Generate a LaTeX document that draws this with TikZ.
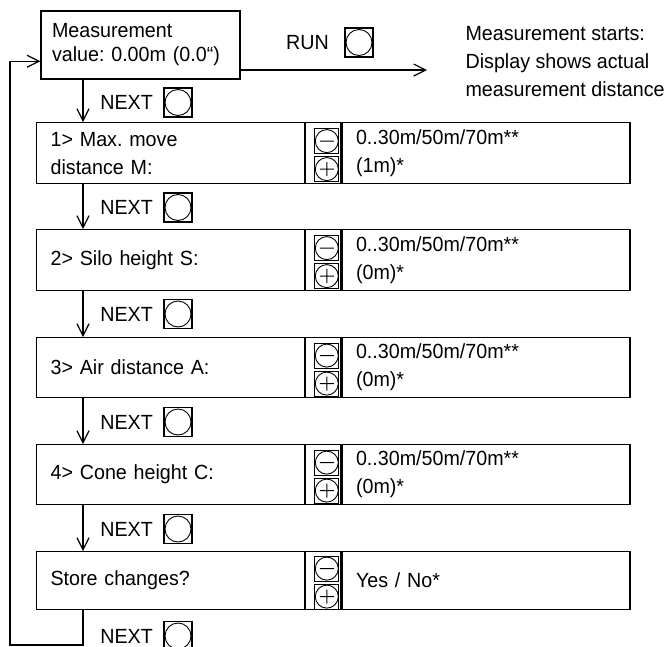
\documentclass[tikz,border=0pt]{standalone}
\usepackage{fontspec}
\setmainfont{Liberation Sans}[FakeStretch=0.96]
\frenchspacing
\usetikzlibrary{arrows.meta, calc, positioning}
\tikzset{
     %set default line width to 1.2pt
    every picture/.style={line width=1.2pt},
    arr/.style={
        -{Straight Barb[length=12pt,width=12pt]},
    },
    meas-box/.style={
        draw,
        minimum width=199pt,
        minimum height=68pt,
        text width=177pt,
        inner xsep=11pt,
        inner ysep=0pt,
        align=left,
        font=\fontsize{20.5}{24}\selectfont,
    },
    lab-box/.style={
        draw,
        anchor=north west,
        minimum height=61pt,
        text width=240pt,
        inner xsep=14pt,
        inner ysep=0pt,
        align=left,
    },
    col-box/.style={
        draw,
        anchor=north west,
        minimum width=35pt,
        minimum height=61pt,
        inner sep=0pt,
    },
    val-box/.style={
        draw,
        anchor=north west,
        minimum height=61pt,
        text width=260pt,
        inner xsep=14pt,
        inner ysep=0pt,
        align=left,
    },
    big-key/.style={
        draw,
        minimum width=28pt,
        minimum height=29pt,
        inner sep=0pt,
        path picture={\draw[line width=0.9pt] (path picture bounding box.center) circle (13pt);},
    },
    minus-key/.style={
        draw,
        line width=0.9pt,
        minimum width=24pt,
        minimum height=25pt,
        inner sep=0pt,
        path picture={\draw[line width=0.9pt] (path picture bounding box.center) circle (11.5pt) +(-7pt,0) -- +(7pt,0);},
    },
    plus-key/.style={
        draw,
        line width=0.9pt,
        minimum width=24pt,
        minimum height=25pt,
        inner sep=0pt,
        path picture={\draw[line width=0.9pt] (path picture bounding box.center) circle (11.5pt) +(-7pt,0) -- +(7pt,0) +(0,-7pt) -- +(0,7pt);},
    },
    key-text/.style={
        inner sep=0pt,
    }
}

\begin{document}
\begin{tikzpicture}[x=1pt,y=1pt,yscale=-1,font=\fontsize{20.5}{28}\selectfont]
\useasboundingbox (0,0) rectangle (669,646);

%Rectangle: measurement value
\node[meas-box] (meas) at (140.5,45) {Measurement\\\mbox{value: 0.00m (0.0“)}};

% RUN key
\node[big-key] (runkey) at (359,42.5) {};
\node[key-text, left=15pt of runkey] (run) {RUN};
% Text Node
\node[anchor=west, align=left, inner sep=0pt] (note) at (465,61.5) {Measurement starts:\\Display shows actual\\measurement distance};

%Rows
\node[lab-box] (lab1) at (36,122) {1> Max. move\\distance M:};
\node[col-box] (col1) at (lab1.north east) {};
\node[val-box] (val1) at (col1.north east) {0..30m/50m/70m**\\(1m)*};
\node[minus-key] (min1) at ($(col1.center)+(3.5,-12)$) {};
\node[plus-key] (pls1) at ($(col1.center)+(3.5,16)$) {};

\node[lab-box] (lab2) at (36,229) {2> Silo height S:};
\node[col-box] (col2) at (lab2.north east) {};
\node[val-box] (val2) at (col2.north east) {0..30m/50m/70m**\\(0m)*};
\node[minus-key] (min2) at ($(col2.center)+(3.5,-12)$) {};
\node[plus-key] (pls2) at ($(col2.center)+(3.5,16)$) {};

\node[lab-box, minimum height=60pt] (lab3) at (36,337) {3> Air distance A:};
\node[col-box, minimum height=60pt] (col3) at (lab3.north east) {};
\node[val-box, minimum height=60pt] (val3) at (col3.north east) {0..30m/50m/70m**\\(0m)*};
\node[minus-key] (min3) at ($(col3.center)+(3.5,-12)$) {};
\node[plus-key] (pls3) at ($(col3.center)+(3.5,16)$) {};

\node[lab-box, minimum height=60pt] (lab4) at (36,444) {4> Cone height C:};
\node[col-box, minimum height=60pt] (col4) at (lab4.north east) {};
\node[val-box, minimum height=60pt] (val4) at (col4.north east) {0..30m/50m/70m**\\(0m)*};
\node[minus-key] (min4) at ($(col4.center)+(3.5,-12)$) {};
\node[plus-key] (pls4) at ($(col4.center)+(3.5,16)$) {};

\node[lab-box, minimum height=58pt] (lab5) at (36,551) {Store changes?};
\node[col-box, minimum height=58pt] (col5) at (lab5.north east) {};
\node[val-box, minimum height=58pt] (val5) at (col5.north east) {Yes / No*};
\node[minus-key] (min5) at ($(col5.center)+(3.5,-12)$) {};
\node[plus-key] (pls5) at ($(col5.center)+(3.5,16)$) {};

% NEXT keys
\node[big-key] (nk0) at (178,102.5) {};
\node[key-text, left=10pt of nk0] (next0) {NEXT};
\node[big-key] (nk1) at (178,207.5) {};
\node[key-text, left=10pt of nk1] (next1) {NEXT};
\node[big-key] (nk2) at (178,314) {};
\node[key-text, left=10pt of nk2] (next2) {NEXT};
\node[big-key] (nk3) at (178,422) {};
\node[key-text, left=10pt of nk3] (next3) {NEXT};
\node[big-key] (nk4) at (178,529) {};
\node[key-text, left=10pt of nk4] (next4) {NEXT};
\node[big-key] (nk5) at (178,636) {};
\node[key-text, left=10pt of nk5] (next5) {NEXT};

%Connectors
\coordinate (spine) at (83,0);
\coordinate (runend) at (427,70);
\coordinate (loopcorner) at (10,645);
\draw[arr] (meas.east |- runend) -- (runend);
\draw[arr] (meas.south -| spine) -- (lab1.north -| spine);
\draw[arr] (lab1.south -| spine) -- (lab2.north -| spine);
\draw[arr] (lab2.south -| spine) -- (lab3.north -| spine);
\draw[arr] (lab3.south -| spine) -- (lab4.north -| spine);
\draw[arr] (lab4.south -| spine) -- (lab5.north -| spine);
\draw[arr] (lab5.south -| spine) |- (loopcorner) |- ($(meas.south west)!0.265!(meas.north west)$);
\end{tikzpicture}
\end{document}
